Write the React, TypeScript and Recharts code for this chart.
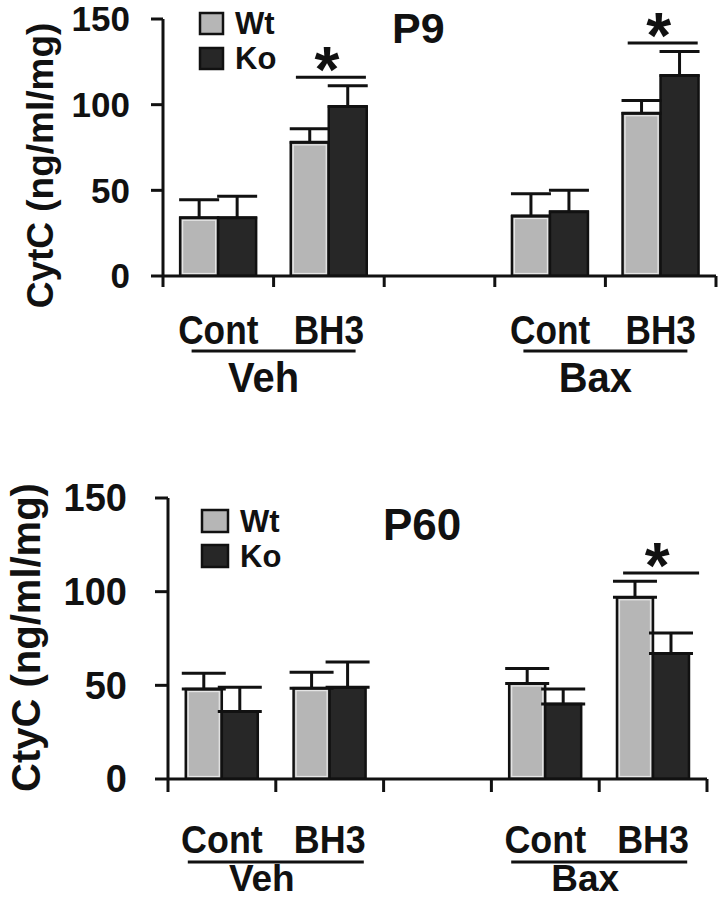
import React from "react";
import { BarChart, Bar, XAxis, YAxis, ErrorBar, ReferenceDot, Legend } from "recharts";

const FONT = "'Liberation Sans', Arial, Helvetica, sans-serif";
const INK = "#111";
const WT_FILL = "#b6b6b6";
const KO_FILL = "#272727";

// five x slots: Veh (Cont, BH3), empty gap, Bax (Cont, BH3)
const conditions = ["Cont", "BH3", "", "Cont", "BH3"];
const groups = [
  { name: "Veh", first: 0 },
  { name: "Bax", first: 3 },
];
const seriesNames = ["Wt", "Ko"];
const yTicks = [0, 50, 100, 150];

// P9 panel
const p9Wt = [34, 78, null, 35, 95];
const p9WtSem = [10.5, 8, null, 13, 7.5];
const p9Ko = [34, 99, null, 37.5, 117];
const p9KoSem = [12.5, 12, null, 12.5, 14];
const p9Sig = [
  { slot: 1, y: 116 },
  { slot: 4, y: 136 },
];

// P60 panel
const p60Wt = [48, 48.5, null, 51, 97];
const p60WtSem = [8.5, 8.5, null, 8, 8.5];
const p60Ko = [36, 49, null, 40, 67];
const p60KoSem = [13, 13.5, null, 8, 11];
const p60Sig = [{ slot: 4, y: 110 }];

function buildRows(wt: (number | null)[], wtSem: (number | null)[], ko: (number | null)[], koSem: (number | null)[]) {
  return conditions.map((c, i) => ({
    slot: i,
    cond: c,
    wt: wt[i],
    ko: ko[i],
    wtErr: wt[i] == null ? null : [0, wtSem[i]],
    koErr: ko[i] == null ? null : [0, koSem[i]],
  }));
}

function SlotTick(props: any) {
  const { x, y, payload, s } = props;
  const i = payload.value;
  const half = payload.offset ?? 55;
  const parts: React.ReactNode[] = [];
  const tick = (tx: number, k: string) => (
    <line key={k} x1={tx} x2={tx} y1={y} y2={y + s.tickLen} stroke={INK} strokeWidth={3} />
  );
  parts.push(tick(x - half, "l"));
  if (i === conditions.length - 1) parts.push(tick(x + half, "r"));
  const name = conditions[i];
  if (name)
    parts.push(
      <text
        key="c"
        transform={`translate(${x},${y + s.condDy}) scale(${s.condScale},1)`}
        textAnchor="middle"
        fontFamily={FONT}
        fontWeight={700}
        fontSize={s.condFont}
        fill={INK}
      >
        {name}
      </text>
    );
  const g = groups.find((gr) => gr.first === i);
  if (g) {
    const gx = x + half;
    parts.push(
      <line key="u" x1={gx - s.ruleHalf} x2={gx + s.ruleHalf} y1={y + s.ruleDy} y2={y + s.ruleDy} stroke={INK} strokeWidth={3} />
    );
    parts.push(
      <text
        key="g"
        transform={`translate(${gx + s.groupDx},${y + s.groupDy}) scale(${s.groupScale},1)`}
        textAnchor="middle"
        fontFamily={FONT}
        fontWeight={700}
        fontSize={s.groupFont}
        fill={INK}
      >
        {g.name}
      </text>
    );
  }
  return <g>{parts}</g>;
}

function YLabel(props: any) {
  const { viewBox, text, dx, dy, size } = props;
  const cx = viewBox.x + dx;
  const cy = viewBox.y + viewBox.height / 2 + dy;
  return (
    <text
      x={cx}
      y={cy}
      transform={`rotate(-90 ${cx} ${cy})`}
      textAnchor="middle"
      dominantBaseline="central"
      fontFamily={FONT}
      fontWeight={700}
      fontSize={size}
      fill={INK}
    >
      {text}
    </text>
  );
}

// significance bar with asterisk, centred over a slot
function SigMark(props: any) {
  const { cx, cy, halfW, dx } = props;
  if (cx == null || cy == null) return null;
  const c = cx + dx;
  return (
    <g>
      <line x1={c - halfW} x2={c + halfW} y1={cy} y2={cy} stroke={INK} strokeWidth={3} />
      <text x={c - 4} y={cy + 15} textAnchor="middle" fontFamily={FONT} fontWeight={700} fontSize={64} fill={INK}>
        *
      </text>
    </g>
  );
}

function WtShape(props: any) {
  const { x, y, width, height, fill } = props;
  if (!height || height <= 0) return null;
  return (
    <g>
      <rect x={x} y={y} width={width} height={height} fill={fill} stroke={INK} strokeWidth={2.5} />
      <rect x={x + 2.5} y={y + 2.5} width={width - 5} height={height - 5} fill="none" stroke="#e6e6e6" strokeWidth={1.2} />
    </g>
  );
}

function LegendBox(props: any) {
  const { payload, lg } = props;
  const items = seriesNames
    .map((n) => (payload || []).find((p: any) => p.value === n))
    .filter(Boolean);
  return (
    <svg width={130} height={80} style={{ display: "block", overflow: "visible" }}>
      {items.map((p: any, i: number) => (
        <g key={p.value}>
          <rect x={2} y={lg.y0 + i * lg.step} width={lg.bw} height={lg.bh} fill={p.color} stroke={INK} strokeWidth={2.5} />
          <text x={lg.tx} y={lg.y0 + i * lg.step + lg.bh} fontFamily={FONT} fontWeight={700} fontSize={lg.font} fill={INK}>
            {p.value}
          </text>
        </g>
      ))}
    </svg>
  );
}

function Panel({ cfg }: { cfg: any }) {
  const rows = buildRows(cfg.wt, cfg.wtSem, cfg.ko, cfg.koSem);
  return (
    <div style={{ position: "absolute", left: 0, top: cfg.top, width: 718, height: cfg.height }}>
      <BarChart width={718} height={cfg.height} data={rows} margin={cfg.margin} barCategoryGap={cfg.gap} barGap={0}>
        <XAxis
          dataKey="slot"
          interval={0}
          tickLine={false}
          tickSize={0}
          tickMargin={0}
          height={120}
          axisLine={{ stroke: INK, strokeWidth: 3 }}
          tick={<SlotTick s={cfg.x} />}
        />
        <YAxis
          domain={[0, 150]}
          allowDataOverflow
          ticks={yTicks}
          interval={0}
          width={cfg.yWidth}
          tickSize={cfg.yTickLen}
          tickMargin={cfg.yTickGap}
          tickLine={{ stroke: INK, strokeWidth: 3 }}
          axisLine={{ stroke: INK, strokeWidth: 3 }}
          tick={{ fill: INK, fontSize: cfg.yFont, fontWeight: 700, fontFamily: FONT }}
          label={<YLabel text={cfg.yLabel} dx={cfg.yLabelDx} dy={cfg.yLabelDy} size={cfg.yLabelFont} />}
        />
        <Legend
          layout="vertical"
          align="center"
          verticalAlign="middle"
          wrapperStyle={{ left: cfg.legend.left, top: cfg.legend.top, width: 130, height: 80 }}
          content={<LegendBox lg={cfg.legend} />}
        />
        <Bar dataKey="wt" name="Wt" fill={WT_FILL} shape={<WtShape />} isAnimationActive={false}>
          <ErrorBar dataKey="wtErr" direction="y" width={cfg.capW} stroke={INK} strokeWidth={3} />
        </Bar>
        <Bar dataKey="ko" name="Ko" fill={KO_FILL} stroke={INK} strokeWidth={2.5} isAnimationActive={false}>
          <ErrorBar dataKey="koErr" direction="y" width={cfg.capW} stroke={INK} strokeWidth={3} />
        </Bar>
        {cfg.sig.map((s: any, i: number) => (
          <ReferenceDot
            key={i}
            x={s.slot}
            y={s.y}
            ifOverflow="visible"
            shape={<SigMark halfW={cfg.sigHalf} dx={cfg.sigDx} />}
          />
        ))}
      </BarChart>
      <svg width={718} height={cfg.height} style={{ position: "absolute", left: 0, top: 0, pointerEvents: "none" }}>
        <text x={cfg.titleX} y={cfg.titleY} fontFamily={FONT} fontWeight={700} fontSize={cfg.titleFont} fill={INK}>
          {cfg.title}
        </text>
      </svg>
    </div>
  );
}

const p9Cfg = {
  top: 0,
  height: 400,
  margin: { top: 19, right: 2, left: 0, bottom: 4 },
  gap: "15.5%",
  wt: p9Wt,
  wtSem: p9WtSem,
  ko: p9Ko,
  koSem: p9KoSem,
  sig: p9Sig,
  sigHalf: 35,
  sigDx: 2,
  capW: 20,
  yWidth: 163,
  yTickLen: 12,
  yTickGap: 21,
  yFont: 35,
  yLabel: "CytC (ng/ml/mg)",
  yLabelDx: 40,
  yLabelDy: 18,
  yLabelFont: 37,
  x: { tickLen: 11, condDy: 68, condFont: 41, condScale: 0.86, ruleDy: 75, ruleHalf: 82, groupDx: -10, groupDy: 116, groupFont: 42, groupScale: 0.95 },
  legend: { left: 198, top: 8, y0: 5, step: 35, bw: 23, bh: 21, tx: 37, font: 31 },
  title: "P9",
  titleX: 392,
  titleY: 43,
  titleFont: 43,
};

const p60Cfg = {
  top: 440,
  height: 459,
  margin: { top: 58, right: 11, left: 0, bottom: 0 },
  gap: "16.5%",
  wt: p60Wt,
  wtSem: p60WtSem,
  ko: p60Ko,
  koSem: p60KoSem,
  sig: p60Sig,
  sigHalf: 38,
  sigDx: 8,
  capW: 22,
  yWidth: 168,
  yTickLen: 13,
  yTickGap: 28,
  yFont: 38,
  yLabel: "CtyC (ng/ml/mg)",
  yLabelDx: 26,
  yLabelDy: -1,
  yLabelFont: 40,
  x: { tickLen: 13, condDy: 74, condFont: 39, condScale: 0.92, ruleDy: 83, ruleHalf: 88, groupDx: -14, groupDy: 112, groupFont: 37, groupScale: 1 },
  legend: { left: 200, top: 65, y0: 5, step: 35, bw: 26, bh: 22, tx: 40, font: 31 },
  title: "P60",
  titleX: 383,
  titleY: 100,
  titleFont: 44,
};

export default function App() {
  return (
    <div style={{ position: "absolute", left: 0, top: 0, width: 718, height: 899, background: "#fff" }}>
      <Panel cfg={p9Cfg} />
      <Panel cfg={p60Cfg} />
    </div>
  );
}
